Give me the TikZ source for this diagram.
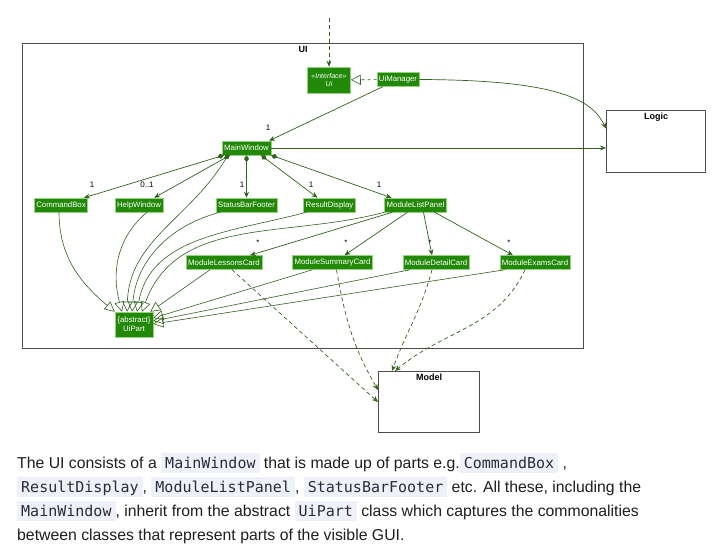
\documentclass[tikz,border=0pt]{standalone}
\usepackage{fontspec}
\setmainfont{Liberation Sans}
\setmonofont{DejaVu Sans Mono}[Scale=0.95]
\usetikzlibrary{arrows.meta,positioning}

\definecolor{uigreen}{RGB}{34,136,8}
\definecolor{uiedge}{RGB}{150,210,130}
\definecolor{uiline}{RGB}{50,98,30}
\definecolor{chipbg}{RGB}{238,240,250}
\definecolor{chiptext}{RGB}{40,44,60}
\definecolor{paratext}{RGB}{30,30,30}

\newcommand{\codechip}[1]{{\setlength{\fboxsep}{0pt}\colorbox{chipbg}{\rule[-4.5pt]{0pt}{20pt}\hspace{4pt}\color{chiptext}\ttfamily #1\hspace{4pt}}}}

\tikzset{
  cls/.style={fill=uigreen, draw=uiedge, line width=0.5pt, text=white,
    font=\fontsize{7.8}{9}\selectfont, inner sep=2pt, minimum height=14pt},
  pkg/.style={draw=black!70, line width=1.1pt, fill=white},
  pkgtitle/.style={font=\fontsize{9}{10}\selectfont\bfseries, inner sep=0pt},
  mult/.style={font=\fontsize{8}{9}\selectfont, inner sep=0pt},
  assoc/.style={uiline, line width=0.7pt, -{Stealth[length=6pt,width=5pt]}},
  comp/.style={uiline, line width=0.7pt, {Diamond[length=7pt,width=5pt]}-{Stealth[length=6pt,width=5pt]}},
  inh/.style={uiline, line width=0.6pt, -{Triangle[open,length=10pt,width=10pt]}},
  dep/.style={uiline, line width=0.7pt, dash pattern=on 4pt off 3pt, -{Stealth[length=6pt,width=5pt]}},
  para/.style={inner sep=0pt, anchor=base west, text=paratext, font=\fontsize{15.8}{19}\selectfont}
}

\begin{document}
\begin{tikzpicture}[x=1pt, y=-1pt]
\useasboundingbox (0,0) rectangle (719,545);

% pacchetti
\node[pkg, minimum width=561pt, minimum height=305pt, anchor=north west] (uibox) at (22,43) {};
\node[pkgtitle, below=3pt of uibox.north] (uititle) {UI};
\node[pkg, minimum width=99pt, minimum height=62pt, anchor=north west] (logic) at (606,110) {};
\node[pkgtitle, below=3pt of logic.north] (logictitle) {Logic};
\node[pkg, minimum width=101pt, minimum height=61pt, anchor=north west] (model) at (378,371) {};
\node[pkgtitle, below=3pt of model.north] (modeltitle) {Model};

% classi
\node[cls, align=center, font=\fontsize{7}{8}\selectfont\itshape, minimum width=43pt, minimum height=26pt] (ui) at (329,80) {«Interface»\\Ui};
\node[cls] (uimanager) at (398,79.5) {UiManager};
\node[cls] (mainwindow) at (246.5,148) {MainWindow};

\node[cls] (commandbox) at (61,205) {CommandBox};
\node[cls] (helpwindow) at (139,205) {HelpWindow};
\node[cls] (statusbar) at (246.5,205) {StatusBarFooter};
\node[cls] (resultdisplay) at (329.5,205) {ResultDisplay};
\node[cls] (modulelist) at (415.5,205) {ModuleListPanel};

\node[cls] (lessons) at (224,262.5) {ModuleLessonsCard};
\node[cls] (summary) at (332.5,262.5) {ModuleSummaryCard};
\node[cls] (detail) at (436,262.5) {ModuleDetailCard};
\node[cls] (exams) at (535,262.5) {ModuleExamsCard};

\node[cls, align=center, minimum width=38pt, minimum height=25pt, inner sep=1pt] (uipart) at (134,324.5) {\{abstract\}\\UiPart};

% ingresso e interfaccia
\coordinate (entry) at (329,18);
\draw[dep] (entry) -- (ui);
\draw[uiline, line width=0.6pt, dashed, -{Triangle[open,length=10pt,width=10pt]}] (uimanager) -- (ui);

% UiManager
\draw[assoc] ([xshift=6pt]uimanager.south west) -- ([xshift=-2pt]mainwindow.north east);
\node[mult] (m0) at (268,128) {1};
\draw[assoc] (uimanager.east) .. controls (560,80) and (592,100) .. ([yshift=13pt]logic.west);

% MainWindow
\draw[assoc] (mainwindow.east) -- (mainwindow.east -| logic.west);
\draw[comp] ([xshift=2pt]mainwindow.south west) -- ([xshift=-4pt]commandbox.north east);
\draw[comp] ([xshift=8pt]mainwindow.south west) -- ([xshift=-9pt]helpwindow.north east);
\draw[comp] (mainwindow.south) -- (statusbar.north);
\draw[comp] ([xshift=-10pt]mainwindow.south east) -- ([xshift=-12pt]resultdisplay.north);
\draw[comp] (mainwindow.south east) -- ([xshift=-24pt]modulelist.north);
\node[mult] (m1) at (92,185) {1};
\node[mult] (m2) at (147,185) {0..1};
\node[mult] (m3) at (242,185) {1};
\node[mult] (m4) at (311,185) {1};
\node[mult] (m5) at (379,185) {1};

% ModuleListPanel
\draw[assoc] ([xshift=8pt]modulelist.south west) -- ([xshift=-12pt]lessons.north east);
\draw[assoc] ([xshift=-8pt]modulelist.south) -- ([xshift=12pt]summary.north);
\draw[assoc] ([xshift=8pt]modulelist.south) -- ([xshift=-4pt]detail.north);
\draw[assoc] ([xshift=-12pt]modulelist.south east) -- ([xshift=-22pt]exams.north);
\node[mult] (s1) at (258,243) {*};
\node[mult] (s2) at (346,243) {*};
\node[mult] (s3) at (430,243) {*};
\node[mult] (s4) at (509,243) {*};

% ereditarieta
\draw[inh] ([xshift=-2pt]commandbox.south) to[out=-90, in=140] (uipart.north west);
\draw[inh] ([xshift=8pt]helpwindow.south) to[out=-140, in=105] ([xshift=-12pt]uipart.north);
\draw[inh] ([xshift=6pt]mainwindow.south west) to[out=-120, in=88] ([xshift=-7pt]uipart.north);
\draw[inh] ([xshift=4pt]statusbar.south west) to[out=-165, in=85] ([xshift=-2pt]uipart.north);
\draw[inh] ([xshift=3pt]resultdisplay.south west) to[out=-165, in=80] ([xshift=3pt]uipart.north);
\draw[inh] (modulelist.south west) to[out=-165, in=70] ([xshift=8pt]uipart.north);
\draw[inh] ([xshift=-14pt]lessons.south) -- ([xshift=-3pt]uipart.north east);
\draw[inh] ([xshift=-20pt]summary.south) -- ([yshift=6.5pt]uipart.east);
\draw[inh] ([xshift=-26pt]detail.south) -- ([yshift=3.5pt]uipart.east);
\draw[inh] ([xshift=-30pt]exams.south) -- ([yshift=0.5pt]uipart.east);

% dipendenze verso Model
\draw[dep] ([xshift=8pt]lessons.south) -- (model.west);
\draw[dep] ([xshift=4pt]summary.south) to[out=-80, in=120] ([yshift=12pt]model.west);
\draw[dep] ([xshift=-4pt]detail.south) to[out=-105, in=70] ([xshift=14pt]model.north west);
\draw[dep] ([xshift=-10pt]exams.south) to[out=-115, in=40] ([xshift=17pt]model.north west);

% testo
\node[para] (line1) at (17,468) {The UI consists of a \codechip{MainWindow} that is made up of parts e.g.\codechip{CommandBox} ,};
\node[para] (line2) at (17,492) {\codechip{ResultDisplay}, \codechip{ModuleListPanel}, \codechip{StatusBarFooter} etc. All these, including the};
\node[para] (line3) at (17,516) {\codechip{MainWindow}, inherit from the abstract \codechip{UiPart} class which captures the commonalities};
\node[para] (line4) at (17,540) {between classes that represent parts of the visible GUI.};

\end{tikzpicture}
\end{document}
